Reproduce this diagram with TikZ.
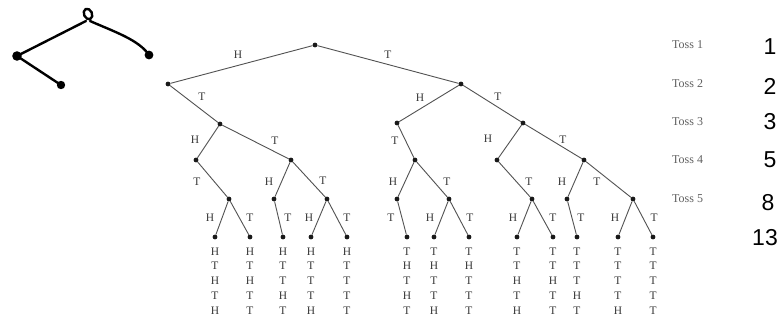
\documentclass[tikz,border=0pt]{standalone}
\usepackage{fontspec}
\setmainfont{Liberation Serif}
\newfontfamily\handdigits{Liberation Sans}
\begin{document}
\begin{tikzpicture}[x=1pt,y=-1pt,
  branch/.style={draw=black!68, line width=0.9pt},
  dot/.style={circle, fill=black!90, inner sep=0pt, minimum size=4.8pt},
  lbl/.style={font=\fontsize{11.5}{12}\selectfont, text=black!78, inner sep=0pt},
  seq/.style={font=\fontsize{11.5}{14.75}\selectfont, text=black!78, align=center, anchor=north, inner sep=0pt},
  tosslabel/.style={font=\fontsize{12}{13}\selectfont, text=black!62, anchor=west, inner sep=0pt},
  count/.style={font=\handdigits\fontsize{23}{24}\selectfont, inner sep=0pt},
  ink/.style={line width=2.4pt, line cap=round, line join=round},
]
\useasboundingbox (0,0) rectangle (783,326);
\fill[white] (0,0) rectangle (783,326);

% --- small hand-drawn tree, top left ---
\coordinate (sk-top) at (88,14);
\coordinate (sk-left) at (17,56);
\coordinate (sk-low) at (61,85);
\coordinate (sk-right) at (149,55);
\draw[ink, rotate around={25:(sk-top)}] (sk-top) ellipse [x radius=4, y radius=5.5];
\fill (sk-left) circle (4.8);
\fill (sk-low) circle (4.2);
\fill (sk-right) circle (4.4);
\draw[ink] (86,21) -- (sk-left);
\draw[ink] (sk-left) -- (sk-low);
\draw[ink] (90,21) .. controls (115,32) and (139,40) .. (sk-right);

% --- tree nodes ---
\foreach \n/\x/\y in {
  r/315/45,
  a/168/84, b/461/84,
  a1/220/124, b1/397/123, b2/523/123,
  c1/196/160, c2/291/160, c3/415/160, c4/497/160, c5/584/160,
  d1/229/199, d2/274/199, d3/327/199, d4/397/199, d5/449/199,
  d6/532/199, d7/567/199, d8/633/199}
  \node[dot] (\n) at (\x,\y) {};

\foreach \n/\x in {l1/215, l2/250, l3/283, l4/311, l5/347, l6/407, l7/434,
  l8/469, l9/517, l10/553, l11/577, l12/618, l13/653}
  \node[dot] (\n) at (\x,237) {};

% --- branches with their labels ---
\foreach \f/\t/\l/\lx/\ly in {
  r/a/H/238/55, r/b/T/388/55,
  a/a1/T/202/97,
  b/b1/H/420/98, b/b2/T/498/97,
  a1/c1/H/195/140, a1/c2/T/275/141,
  b1/c3/T/395/141,
  b2/c4/H/488/139, b2/c5/T/563/140,
  c1/d1/T/197/182,
  c2/d2/H/269/182, c2/d3/T/323/181,
  c3/d4/H/393/182, c3/d5/T/447/182,
  c4/d6/T/529/182,
  c5/d7/H/562/182, c5/d8/T/597/182,
  d1/l1/H/210/218, d1/l2/T/250/218,
  d2/l3/T/288/218,
  d3/l4/H/309/218, d3/l5/T/347/218,
  d4/l6/T/391/218,
  d5/l7/H/430/218, d5/l8/T/470/218,
  d6/l9/H/513/218, d6/l10/T/553/218,
  d7/l11/T/581/218,
  d8/l12/H/615/218, d8/l13/T/654/218}
{
  \draw[branch] (\f) -- (\t);
  \node[lbl] (lab-\t) at (\lx,\ly) {\l};
}

% --- outcome sequences below the leaves ---
\foreach \n/\s in {
  1/{H\\T\\H\\T\\H}, 2/{H\\T\\H\\T\\T}, 3/{H\\T\\T\\H\\T}, 4/{H\\T\\T\\T\\H},
  5/{H\\T\\T\\T\\T}, 6/{T\\H\\T\\H\\T}, 7/{T\\H\\T\\T\\H}, 8/{T\\H\\T\\T\\T},
  9/{T\\T\\H\\T\\H}, 10/{T\\T\\H\\T\\T}, 11/{T\\T\\T\\H\\T}, 12/{T\\T\\T\\T\\H},
  13/{T\\T\\T\\T\\T}}
  \node[seq] (s\n) at ([yshift=-10.3pt]l\n.center) {\s};

% --- toss row labels ---
\foreach \k/\y in {1/45, 2/84, 3/122, 4/160, 5/199}
  \node[tosslabel] (toss\k) at (672,\y) {Toss \k};

% --- hand-written counts ---
\node[count] (n1) at (770,47) {1};
\node[count] (n2) at (770,86) {2};
\node[count] (n3) at (770,122) {3};
\node[count] (n4) at (770,160) {5};
\node[count] (n5) at (768,203) {8};
\node[count] (n6) at (765,238) {13};
\end{tikzpicture}
\end{document}
